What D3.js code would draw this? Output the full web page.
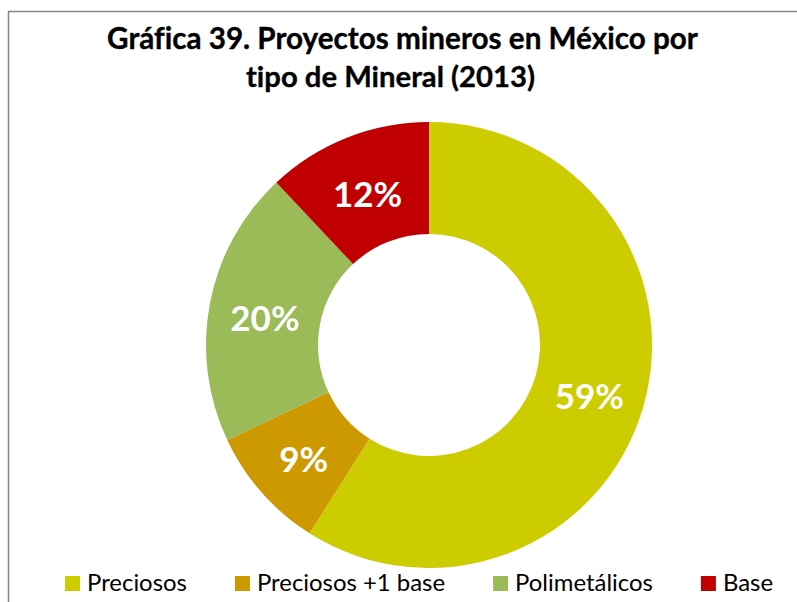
<!DOCTYPE html>
<html>
<head>
<meta charset="utf-8">
<script src="https://cdn.jsdelivr.net/npm/d3@7"></script>
<style>
  html, body { margin: 0; padding: 0; background: #fff; }
  svg { display: block; }
  text { font-variant-ligatures: none; font-feature-settings: "liga" 0, "clig" 0; }
</style>
</head>
<body>
<svg id="chart" width="797" height="602"></svg>
<script>
// Proyectos mineros en México por tipo de mineral (2013)
const categories = ["Preciosos", "Preciosos +1 base", "Polimetálicos", "Base"];
const shares = [59, 9, 20, 12];
const colors = ["#CCCC00", "#CC9900", "#9BBB59", "#C00000"];
const titleLines = ["Gráfica 39. Proyectos mineros en México por", "tipo de Mineral (2013)"];

const W = 797, H = 602;
const FONT = "Lato, 'Open Sans', sans-serif";
const svg = d3.select("#chart");

// chart frame
svg.append("rect")
  .attr("x", 8.5).attr("y", 11.5)
  .attr("width", W + 20).attr("height", H + 20)
  .attr("fill", "#fff").attr("stroke", "#868686").attr("stroke-width", 1.5);

// fit a text element's font size to a target width
function fitWidth(sel, target) {
  const node = sel.node();
  const size = parseFloat(sel.attr("font-size"));
  const w = node.getComputedTextLength();
  sel.attr("font-size", (size * target / w).toFixed(2));
}

// title
const titleSpecs = [
  { cx: 402.5, y: 49, w: 591 },
  { cx: 390.5, y: 87, w: 289 }
];
titleLines.forEach((t, i) => {
  const s = svg.append("text")
    .attr("x", titleSpecs[i].cx).attr("y", titleSpecs[i].y)
    .attr("text-anchor", "middle")
    .attr("font-family", FONT).attr("font-weight", "bold")
    .attr("font-size", 26).attr("fill", "#000")
    .attr("stroke", "#000").attr("stroke-width", 0.35)
    .text(t);
  fitWidth(s, titleSpecs[i].w);
});

// donut
const cx = 429, cy = 345, outerR = 223, innerR = 111;
const data = categories.map((c, i) => ({ name: c, value: shares[i], color: colors[i] }));
const pie = d3.pie().value(d => d.value).sort(null);
const arc = d3.arc().innerRadius(innerR).outerRadius(outerR);
const arcs = pie(data);

const g = svg.append("g").attr("transform", `translate(${cx},${cy})`);
g.selectAll("path.slice")
  .data(arcs)
  .join("path")
  .attr("class", "slice")
  .attr("d", arc)
  .attr("fill", d => d.data.color);

g.selectAll("text.pct")
  .data(arcs)
  .join("text")
  .attr("class", "pct")
  .attr("transform", d => {
    const [x, y] = arc.centroid(d);
    return `translate(${x},${y + 3})`;
  })
  .attr("text-anchor", "middle")
  .attr("dominant-baseline", "central")
  .attr("font-family", FONT).attr("font-weight", "bold")
  .attr("font-size", 35).attr("fill", "#fff")
  .text(d => d.data.value + "%");

// legend
const legend = svg.append("g");
const sw = 15, gapText = 7, gapItem = 48, legY = 591;
let lx = 65;
data.forEach((d, i) => {
  legend.append("rect")
    .attr("x", lx).attr("y", legY - sw)
    .attr("width", sw).attr("height", sw)
    .attr("fill", d.color);
  const t = legend.append("text")
    .attr("x", lx + sw + gapText).attr("y", legY)
    .attr("font-family", FONT).attr("font-size", 24)
    .attr("fill", "#000")
    .text(d.name);
  if (i === 0) fitWidth(t, 100);
  else t.attr("font-size", legend.select("text").attr("font-size"));
  lx += sw + gapText + t.node().getComputedTextLength() + gapItem;
});
</script>
</body>
</html>
